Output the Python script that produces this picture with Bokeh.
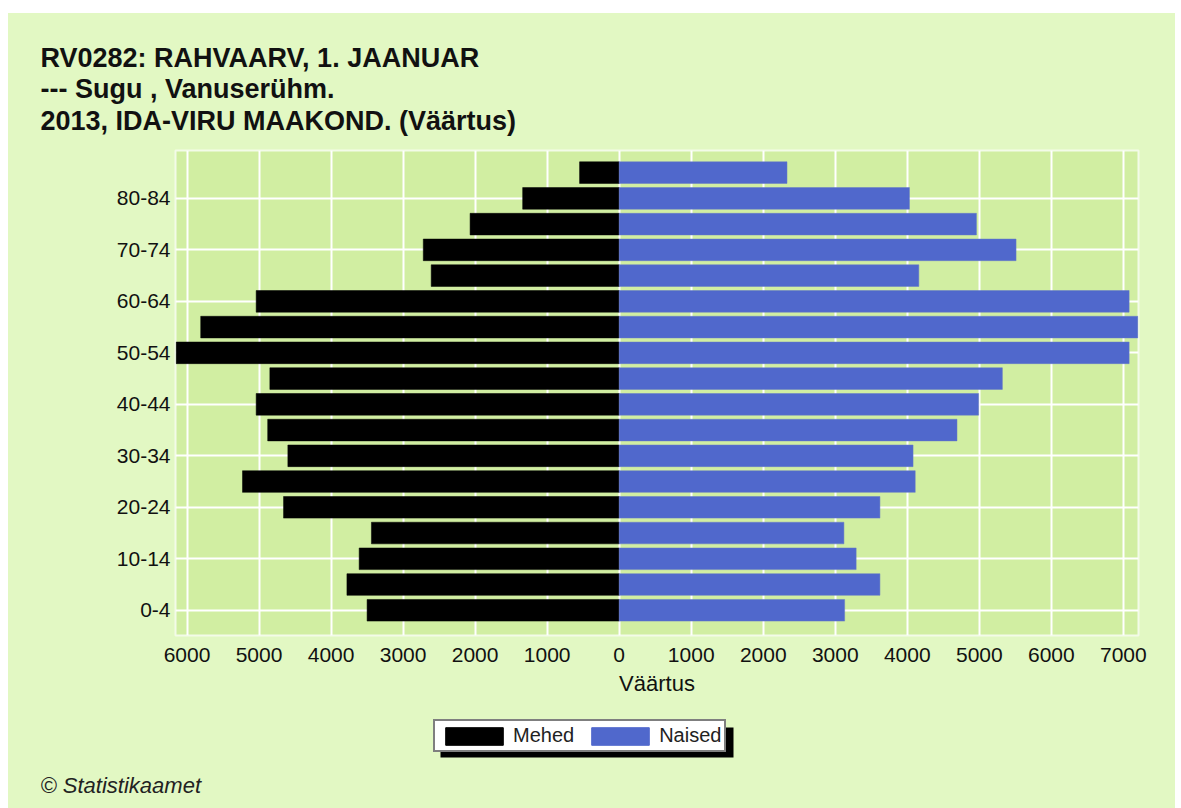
from bokeh.plotting import figure
from bokeh.models import (FixedTicker, CustomJSTickFormatter, Legend, LegendItem,
                          Title, BoxAnnotation, Spacer, ColumnDataSource)
from bokeh.layouts import column, row
from bokeh.embed import file_html
from bokeh.resources import INLINE

# ---- data ----
age_groups = ["0-4", "5-9", "10-14", "15-19", "20-24", "25-29", "30-34", "35-39",
              "40-44", "45-49", "50-54", "55-59", "60-64", "65-69", "70-74",
              "75-79", "80-84", "85+"]
mehed = [3500, 3780, 3610, 3440, 4660, 5230, 4600, 4880, 5040, 4850,
         6150, 5810, 5040, 2610, 2720, 2070, 1340, 550]
naised = [3130, 3620, 3290, 3120, 3620, 4110, 4080, 4690, 4990, 5320,
          7080, 7200, 7080, 4160, 5510, 4960, 4030, 2330]
x_ticks = [-6000, -5000, -4000, -3000, -2000, -1000, 0,
           1000, 2000, 3000, 4000, 5000, 6000, 7000]
title_lines = ["RV0282: RAHVAARV, 1. JAANUAR",
               "--- Sugu , Vanuserühm.",
               "2013, IDA-VIRU MAAKOND. (Väärtus)"]
series_names = ["Mehed", "Naised"]
x_label = "Väärtus"
footer = "© Statistikaamet"

# ---- style ----
PANEL_BG = "#E2F8C3"
PLOT_BG = "#D1EEA2"
BLUE = "#5068CC"
FONT = "Liberation Sans"
W = 1167
BORDER_L, BORDER_R = 167, 37

pos = list(range(len(age_groups)))
src = ColumnDataSource(dict(
    y=pos,
    men_left=[-v for v in mehed],
    women=naised,
))

# ---- main pyramid (with the title above) ----
p = figure(width=W, height=697, output_backend="svg", toolbar_location=None,
           x_range=(-6160, 7210), y_range=(-0.98, 17.86),
           min_border_left=BORDER_L, min_border_right=BORDER_R,
           min_border_top=137, min_border_bottom=75,
           background_fill_color=PLOT_BG, border_fill_color=PANEL_BG,
           outline_line_color="#F3FBE8", outline_line_width=2)

r_m = p.hbar(y="y", left="men_left", right=0, height=0.84, source=src,
             fill_color="black", line_color="black", line_width=0.5)
r_w = p.hbar(y="y", left=0, right="women", height=0.84, source=src,
             fill_color=BLUE, line_color="#6578C8", line_width=0.5)

p.add_layout(Title(text="\n".join(title_lines), align="left", offset=-135,
                   standoff=30, vertical_align="bottom",
                   text_font=FONT, text_font_size="27px", text_font_style="bold",
                   text_color="#111111", text_line_height=1.05), "above")

p.xaxis.ticker = FixedTicker(ticks=x_ticks)
p.xaxis.formatter = CustomJSTickFormatter(code="return Math.abs(tick).toString()")
p.yaxis.ticker = FixedTicker(ticks=pos[::2])
p.yaxis.major_label_overrides = {i: age_groups[i] for i in pos[::2]}
for ax in (p.xaxis[0], p.yaxis[0]):
    ax.axis_line_color = None
    ax.major_tick_line_color = None
    ax.minor_tick_line_color = None
    ax.major_tick_out = 0
    ax.major_tick_in = 0
    ax.major_label_text_font = FONT
    ax.major_label_text_font_size = "21px"
    ax.major_label_text_color = "#111111"
p.xaxis.major_label_standoff = 12
p.yaxis.major_label_standoff = 5
p.xaxis.axis_label = x_label
p.xaxis.axis_label_text_font = FONT
p.xaxis.axis_label_text_font_size = "22px"
p.xaxis.axis_label_text_font_style = "normal"
p.xaxis.axis_label_text_color = "#111111"
p.xaxis.axis_label_standoff = 6

p.xgrid.ticker = FixedTicker(ticks=x_ticks)
p.ygrid.ticker = FixedTicker(ticks=pos[::2])
p.grid.grid_line_color = "white"
p.grid.grid_line_width = 2

# ---- legend + footer block ----
bot = figure(width=W, height=98, output_backend="svg", toolbar_location=None,
             x_axis_type=None, y_axis_type=None,
             min_border_left=BORDER_L, min_border_right=BORDER_R,
             min_border_top=0, min_border_bottom=40, outline_line_color=None,
             background_fill_color=PANEL_BG, background_fill_alpha=0,
             border_fill_color=PANEL_BG, border_fill_alpha=0)
k_m = bot.hbar(y="y", left="men_left", right=0, height=0.84, source=src,
               fill_color="black", line_color="black", visible=False)
k_w = bot.hbar(y="y", left=0, right="women", height=0.84, source=src,
               fill_color=BLUE, line_color=BLUE, visible=False)

bot.add_layout(BoxAnnotation(left=265, right=558, bottom=11, top=41,
                             left_units="screen", right_units="screen",
                             bottom_units="screen", top_units="screen",
                             fill_color="black", fill_alpha=1, line_color=None))
legend = Legend(items=[LegendItem(label=series_names[0], renderers=[k_m]),
                       LegendItem(label=series_names[1], renderers=[k_w])],
                location=(258, 16), orientation="horizontal",
                glyph_width=72, glyph_height=22, label_standoff=3, spacing=10,
                padding=3, margin=0, label_height=20,
                label_text_font=FONT, label_text_font_size="20px",
                label_text_color="#222222",
                background_fill_color="white", background_fill_alpha=1,
                border_line_color="black", border_line_width=2,
                inactive_fill_alpha=0)
bot.add_layout(legend)
bot.add_layout(Title(text=footer, align="left", offset=-135, standoff=9,
                     vertical_align="top", text_font=FONT, text_font_size="22px",
                     text_font_style="italic", text_color="#222222"), "below")

inner = column(p, bot, styles={"background-color": PANEL_BG})
layout = column(Spacer(width=W + 8, height=13),
                row(Spacer(width=8, height=795), inner))
open("out.html", "w").write(file_html(layout, INLINE))
